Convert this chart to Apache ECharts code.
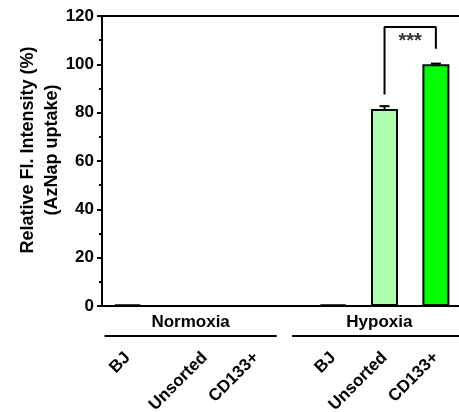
<!DOCTYPE html>
<html>
<head>
<meta charset="utf-8">
<script src="https://cdn.jsdelivr.net/npm/echarts@6/dist/echarts.min.js"></script>
<style>
  html, body { margin: 0; padding: 0; background: #fff; }
  #chart { width: 459px; height: 412px; }
</style>
</head>
<body>
<div id="chart"></div>
<script>
// cells on the x axis (position = slot on the value axis)
const cellNames = ['BJ', 'Unsorted', 'CD133+', 'BJ', 'Unsorted', 'CD133+'];
const cellPos = [0, 1.5, 2.5, 4, 5, 6];
const uptake = [0.6, null, null, 0.6, 81.5, 100];
const uptakeErr = [0, 0, 0, 0, 1.2, 0.3];

// group brackets under the axis
const groupNames = ['Normoxia', 'Hypoxia'];
const groupFrom = [-0.45, 3.2];
const groupTo = [2.9, 6.6];

// significance bracket: Unsorted vs CD133+ (hypoxia)
const sigX = [5, 6];
const sigY = [87.5, 115.5, 106.5];
const sigLabel = '***';
const sigLabelY = 109.5;

const barColors = ['#000000', '#adffad', '#00ff00', '#000000', '#adffad', '#00ff00'];
const FONT = 'Liberation Sans, Arial, sans-serif';

const chart = echarts.init(document.getElementById('chart'));

const barData = uptake.map((v, i) => ({
  value: [cellPos[i], v == null ? '-' : v],
  itemStyle: { color: barColors[i] }
}));

const errData = [];
uptake.forEach((v, i) => {
  if (v != null && uptakeErr[i] > 0) errData.push([cellPos[i], v, uptakeErr[i]]);
});

const option = {
  animation: false,
  grid: { left: 102, right: 0, top: 16, bottom: 106, outerBoundsMode: 'none', containLabel: false },
  xAxis: [
    {
      type: 'value',
      min: -0.5,
      max: 6.45,
      splitLine: { show: false },
      axisTick: { show: false },
      axisLine: { onZero: false, lineStyle: { color: '#000', width: 2 } },
      axisLabel: {
        customValues: cellPos,
        formatter: v => cellNames[cellPos.indexOf(v)],
        rotate: 45,
        margin: 49,
        color: '#000',
        fontWeight: 'bold',
        fontSize: 17,
        fontFamily: FONT
      }
    },
    {
      type: 'value',
      position: 'top',
      min: -0.5,
      max: 6.45,
      splitLine: { show: false },
      axisTick: { show: false },
      axisLabel: { show: false },
      axisLine: { show: true, onZero: false, lineStyle: { color: '#000', width: 2 } }
    }
  ],
  yAxis: {
    type: 'value',
    min: 0,
    max: 120,
    interval: 20,
    name: 'Relative Fl. Intensity (%)\n(AzNap uptake)',
    nameLocation: 'middle',
    nameGap: 38,
    nameMoveOverlap: false,
    nameTextStyle: {
      color: '#000',
      fontWeight: 'bold',
      fontSize: 18,
      fontFamily: FONT,
      lineHeight: 24,
      padding: [0, 0, 0, 22]
    },
    splitLine: { show: false },
    axisLine: { show: true, onZero: false, lineStyle: { color: '#000', width: 2 } },
    axisTick: { show: true, length: 5, lineStyle: { color: '#000', width: 2 } },
    minorTick: { show: true, splitNumber: 2, length: 3, lineStyle: { color: '#000', width: 2 } },
    axisLabel: {
      color: '#000',
      fontWeight: 'bold',
      fontSize: 17,
      fontFamily: FONT,
      margin: 8
    }
  },
  series: [
    {
      type: 'bar',
      barWidth: 27,
      data: barData,
      itemStyle: { borderColor: '#000', borderWidth: 2 }
    },
    {
      type: 'custom',
      z: 5,
      data: errData,
      renderItem: (params, api) => {
        const x = api.value(0), v = api.value(1), e = api.value(2);
        const base = api.coord([x, v]);
        const top = api.coord([x, v + e]);
        const st = { stroke: '#000', lineWidth: 2 };
        return {
          type: 'group',
          children: [
            { type: 'line', shape: { x1: base[0], y1: base[1], x2: top[0], y2: top[1] }, style: st },
            { type: 'line', shape: { x1: top[0] - 5, y1: top[1], x2: top[0] + 5, y2: top[1] }, style: st }
          ]
        };
      }
    },
    {
      type: 'line',
      symbol: 'none',
      silent: true,
      lineStyle: { color: '#000', width: 2 },
      data: [[sigX[0], sigY[0]], [sigX[0], sigY[1]], [sigX[1], sigY[1]], [sigX[1], sigY[2]]]
    },
    {
      type: 'scatter',
      symbolSize: 0,
      silent: true,
      data: [[(sigX[0] + sigX[1]) / 2, sigLabelY]],
      label: {
        show: true,
        position: 'inside',
        formatter: sigLabel,
        color: '#000',
        fontWeight: 'bold',
        fontSize: 20,
        fontFamily: FONT
      }
    },
    {
      type: 'custom',
      clip: false,
      silent: true,
      data: groupNames.map((n, i) => [groupFrom[i], groupTo[i]]),
      encode: { x: [0, 1] },
      renderItem: (params, api) => {
        const a = api.coord([api.value(0), 0]);
        const b = api.coord([api.value(1), 0]);
        return {
          type: 'group',
          children: [
            {
              type: 'line',
              shape: { x1: a[0], y1: a[1] + 30, x2: b[0], y2: b[1] + 30 },
              style: { stroke: '#000', lineWidth: 2 }
            },
            {
              type: 'text',
              x: (a[0] + b[0]) / 2,
              y: a[1] + 16,
              style: {
                text: groupNames[params.dataIndex],
                align: 'center',
                verticalAlign: 'middle',
                fill: '#000',
                font: 'bold 17px ' + FONT
              }
            }
          ]
        };
      }
    }
  ]
};

chart.setOption(option);
</script>
</body>
</html>
